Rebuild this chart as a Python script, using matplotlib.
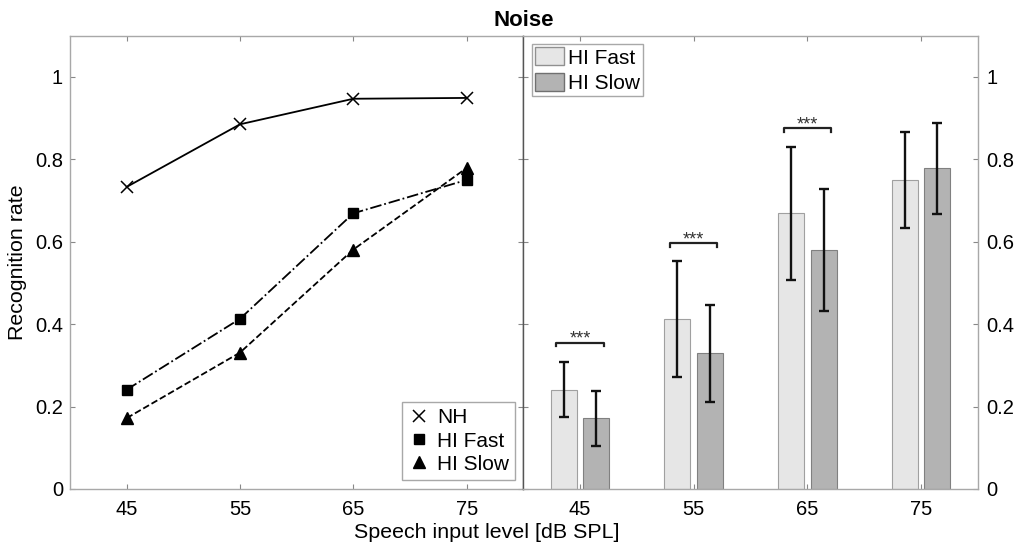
import matplotlib
matplotlib.use("Agg")
import matplotlib.pyplot as plt
from matplotlib.lines import Line2D
from matplotlib.patches import Patch
import numpy as np

plt.rcParams['font.family'] = ['Liberation Sans', 'DejaVu Sans']

levels = [45, 55, 65, 75]
level_labels = ["45", "55", "65", "75"]
nh = [0.733, 0.885, 0.947, 0.949]
hi_fast = [0.241, 0.413, 0.669, 0.750]
hi_slow = [0.172, 0.331, 0.581, 0.779]

fast_err_hi = [0.309, 0.553, 0.830, 0.866]
fast_err_lo = [0.174, 0.271, 0.508, 0.634]
slow_err_hi = [0.239, 0.447, 0.729, 0.888]
slow_err_lo = [0.105, 0.212, 0.432, 0.667]

sig_groups = [0, 1, 2]
sig_heights = [0.355, 0.597, 0.876]
sig_text = "***"

yticks = [0, 0.2, 0.4, 0.6, 0.8, 1.0]
ytick_labels = ["0", "0.2", "0.4", "0.6", "0.8", "1"]

W, H = 1017, 547
fig = plt.figure(figsize=(W / 100, H / 100), dpi=100)

def fx(px):
    return px / W

def fy(py):
    return 1 - py / H

L, M, R, T, B = 70, 523.3, 977.7, 35.7, 489
axL = fig.add_axes([fx(L), fy(B), fx(M - L), (B - T) / H])
axR = fig.add_axes([fx(M), fy(B), fx(R - M), (B - T) / H])

edge_gray = '#a8a8a8'
tick_fs = 14.5

for ax in (axL, axR):
    for s in ax.spines.values():
        s.set_color(edge_gray)
        s.set_linewidth(1.0)
    ax.tick_params(direction='in', length=3.5, width=0.8, color='#888888',
                   labelsize=tick_fs, top=True, right=True, left=True, bottom=True)
    ax.set_ylim(0, 1.1)
    ax.set_yticks(yticks)

axL.spines['right'].set_color('#555555')
axR.spines['left'].set_color('#555555')

# Left panel: lines
axL.plot(levels, nh, color='black', lw=1.3, marker='x', ms=8, mew=1.1, zorder=3)
axL.plot(levels, hi_fast, color='black', lw=1.3, ls='-.', marker='s', ms=6.5, zorder=3)
axL.plot(levels, hi_slow, color='black', lw=1.3, ls='--', marker='^', ms=9, zorder=3)
axL.set_xlim(40, 80)
axL.set_xticks(levels)
axL.set_xticklabels(level_labels)
axL.set_yticklabels(ytick_labels)
axL.tick_params(axis='x', pad=8)
axL.tick_params(axis='y', pad=5)

handlesL = [Line2D([], [], ls='none', marker='x', color='black', ms=8, mew=1.1),
            Line2D([], [], ls='none', marker='s', color='black', ms=6.5),
            Line2D([], [], ls='none', marker='^', color='black', ms=9)]
legL = axL.legend(handlesL, ["NH", "HI Fast", "HI Slow"], loc='lower right',
                  bbox_to_anchor=(0.9817, 0.0199), borderaxespad=0, fontsize=15,
                  frameon=True, fancybox=False, framealpha=1, edgecolor=edge_gray,
                  handlelength=1.0, handletextpad=0.35, borderpad=0.3, labelspacing=0.2)
legL.get_frame().set_linewidth(1.0)

# Right panel: bars
x = np.arange(1, len(levels) + 1)
off = 1 / 7
bw = 0.8 * 2 / 7
fast_col = '#e6e6e6'
slow_col = '#b3b3b3'
axR.bar(x - off, hi_fast, width=bw, color=fast_col, edgecolor='#a0a0a0', linewidth=0.8, zorder=2)
axR.bar(x + off, hi_slow, width=bw, color=slow_col, edgecolor='#808080', linewidth=0.8, zorder=2)

fh = np.array(fast_err_hi); fl = np.array(fast_err_lo); fv = np.array(hi_fast)
sh = np.array(slow_err_hi); sl = np.array(slow_err_lo); sv = np.array(hi_slow)
axR.errorbar(x - off, fv, yerr=[fv - fl, fh - fv], fmt='none', ecolor='#111111',
             elinewidth=1.7, capsize=3.6, capthick=1.7, zorder=3)
axR.errorbar(x + off, sv, yerr=[sv - sl, sh - sv], fmt='none', ecolor='#111111',
             elinewidth=1.7, capsize=3.6, capthick=1.7, zorder=3)

for g, h in zip(sig_groups, sig_heights):
    xc = x[g]
    axR.plot([xc - 0.208, xc - 0.208, xc + 0.208, xc + 0.208],
             [h - 0.009, h, h, h - 0.009], color='#222222', lw=1.6, zorder=3)
    axR.text(xc, h - 0.003, sig_text, ha='center', va='baseline', fontsize=13, color='#333333')

axR.set_xlim(0.5, 4.5)
axR.set_xticks(x)
axR.set_xticklabels(level_labels)
axR.yaxis.tick_right()
axR.tick_params(left=True, right=True, labelleft=False, labelright=True)
axR.set_yticklabels(ytick_labels)
axR.tick_params(axis='x', pad=8)
axR.tick_params(axis='y', pad=6.5)

handlesR = [Patch(facecolor=fast_col, edgecolor='#909090', linewidth=1.0),
            Patch(facecolor=slow_col, edgecolor='#707070', linewidth=1.0)]
legR = axR.legend(handlesR, ["HI Fast", "HI Slow"], loc='upper left',
                  bbox_to_anchor=(0.0198, 0.981), borderaxespad=0, fontsize=15,
                  frameon=True, fancybox=False, framealpha=1, edgecolor=edge_gray,
                  handlelength=1.35, handleheight=0.95, handletextpad=0.2,
                  borderpad=0.15, labelspacing=0.25)
legR.get_frame().set_linewidth(1.0)

fig.text(fx(523.5), fy(20.5), "Noise", ha='center', va='center', fontsize=16, fontweight='bold')
fig.text(fx(486.5), fy(532), "Speech input level [dB SPL]", ha='center', va='center', fontsize=15.4)
fig.text(fx(18), fy(262), "Recognition rate", ha='center', va='center', rotation=90, fontsize=15.4)

fig.savefig("out.png", dpi=100)
